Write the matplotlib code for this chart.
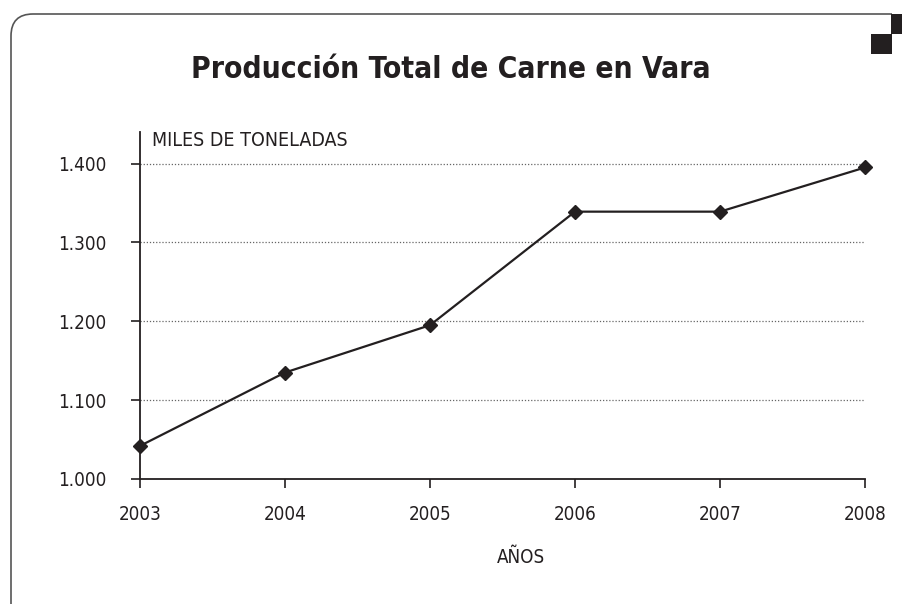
import matplotlib.pyplot as plt
from matplotlib.path import Path
from matplotlib.patches import PathPatch, Rectangle

years = [2003, 2004, 2005, 2006, 2007, 2008]
produccion = [1042, 1135, 1195, 1339, 1339, 1395]
yticks = [1000, 1100, 1200, 1300, 1400]
ytick_labels = ['1.000', '1.100', '1.200', '1.300', '1.400']

W, H = 902, 608
plt.rcParams['font.family'] = ['DejaVu Sans']
plt.rcParams['font.stretch'] = 'condensed'

fig = plt.figure(figsize=(W / 100, H / 100), dpi=100)

def fx(x):
    return x / W

def fy(y):
    return 1 - y / H

# marco con esquina redondeada
verts = [(fx(11), fy(604)), (fx(11), fy(36)), (fx(11), fy(14)), (fx(33), fy(14)), (fx(892), fy(14))]
codes = [Path.MOVETO, Path.LINETO, Path.CURVE3, Path.CURVE3, Path.LINETO]
fig.patches.append(PathPatch(Path(verts, codes), transform=fig.transFigure,
                             fill=False, edgecolor='#555555', lw=1.2))
fig.patches.append(Rectangle((fx(891), fy(34)), fx(11), 20 / H, transform=fig.transFigure,
                             facecolor='#231f20', edgecolor='none'))
fig.patches.append(Rectangle((fx(871), fy(54)), fx(21), 20 / H, transform=fig.transFigure,
                             facecolor='#231f20', edgecolor='none'))

ax = fig.add_axes([fx(140), fy(479), fx(865) - fx(140), fy(132) - fy(479)])
ax.plot(years, produccion, color='#231f20', lw=1.6, marker='D', markersize=7, clip_on=False, zorder=3)

ax.set_xlim(2003, 2008)
ax.set_ylim(1000, 1440)
ax.set_yticks(yticks)
ax.set_yticklabels(ytick_labels)
ax.set_xticks(years)
for v in yticks[1:]:
    ax.axhline(v, color='#666666', lw=0.9, ls=(0, (1, 1.5)), zorder=1)

ax.spines['top'].set_visible(False)
ax.spines['right'].set_visible(False)
for s in ['left', 'bottom']:
    ax.spines[s].set_linewidth(1.3)
    ax.spines[s].set_color('#231f20')
ax.tick_params(direction='out', length=6.5, width=1.2, color='#231f20',
               labelsize=13.5, labelcolor='#231f20')
ax.tick_params(axis='y', pad=17.5)
ax.tick_params(axis='x', pad=12)

ax.set_xlabel('AÑOS', fontsize=13.5, color='#231f20')
ax.xaxis.set_label_coords(0.525, -0.198)
ax.text(0.017, 0.975, 'MILES DE TONELADAS', transform=ax.transAxes, fontsize=14,
        color='#231f20', va='center', ha='left')

fig.text(0.5, fy(70), 'Producción Total de Carne en Vara', ha='center', va='center',
         fontsize=21.5, fontweight='bold', color='#231f20')

fig.savefig('out.png', dpi=100)
